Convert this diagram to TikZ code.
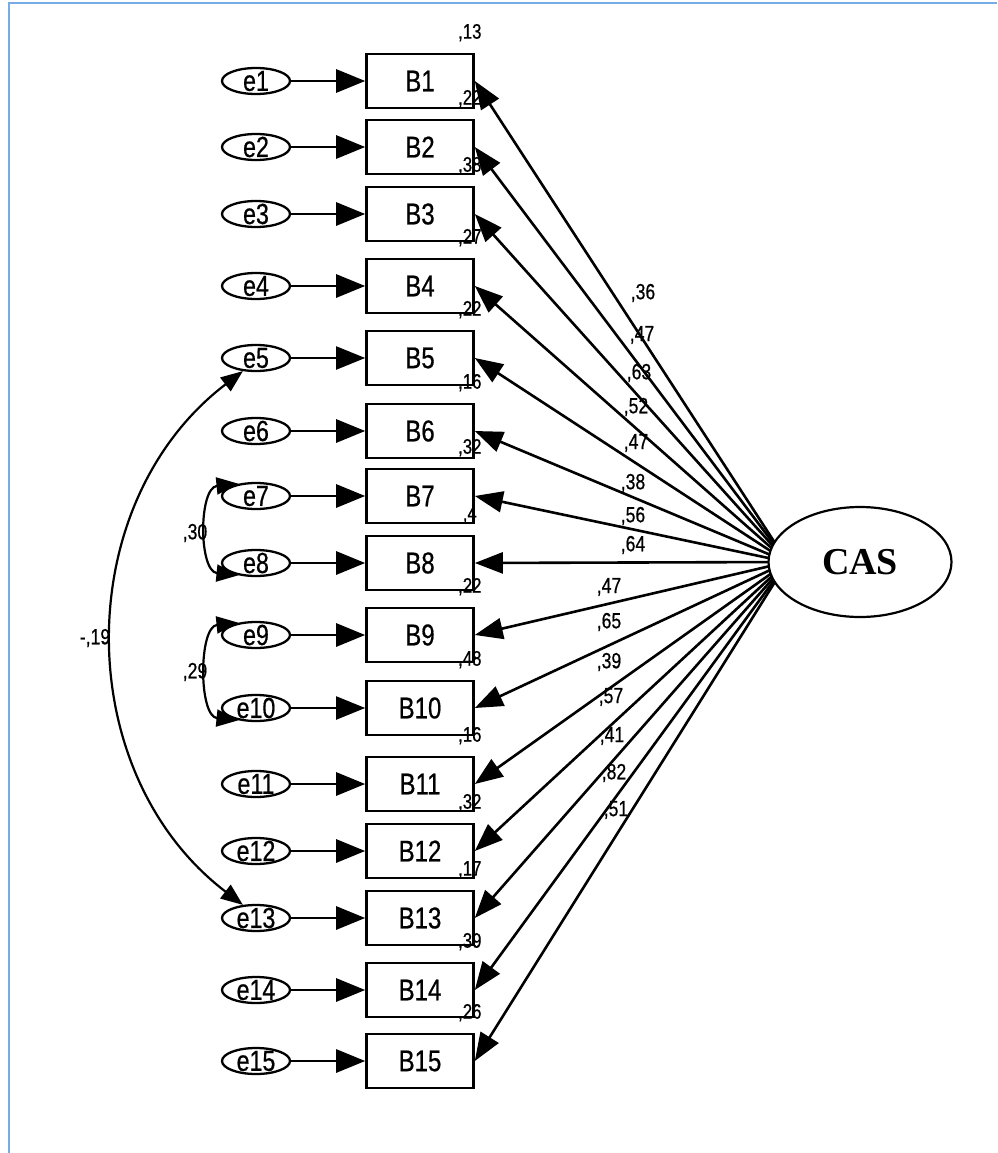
\documentclass[tikz,border=0pt]{standalone}
\usepackage{fontspec}
\usetikzlibrary{shapes.geometric,arrows.meta,backgrounds}
\newfontfamily\narrowsans[FakeStretch=0.8,FakeBold=0.6]{Liberation Sans}
\newfontfamily\latentfont{Liberation Serif}
\definecolor{frameblue}{RGB}{120,172,228}

\begin{document}
\begin{tikzpicture}[x=1pt,y=-1pt,
  obs/.style={draw,line width=2.6pt,minimum width=107pt,minimum height=54pt,
    inner sep=0pt,font=\narrowsans\fontsize{30}{30}\selectfont},
  err/.style={draw,ellipse,line width=2.3pt,minimum width=68pt,minimum height=26pt,inner sep=0pt},
  errtxt/.style={inner sep=0pt,font=\narrowsans\fontsize{29}{29}\selectfont},
  latent/.style={draw,ellipse,line width=2.2pt,fill=white,minimum width=183pt,
    minimum height=110pt,inner sep=0pt,font=\latentfont\bfseries\fontsize{38}{38}\selectfont},
  reg/.style={-{Triangle[length=29pt,width=23pt]}},
  load/.style={line width=2.6pt,-{Triangle[length=28pt,width=21pt]}},
  cov/.style={line width=2.2pt,{Triangle[length=22pt,width=17pt]}-{Triangle[length=22pt,width=17pt]}},
  est/.style={inner sep=0pt,font=\narrowsans\fontsize{22}{22}\selectfont},
  rsq/.style={inner sep=0pt,font=\narrowsans\fontsize{21}{21}\selectfont}]

\useasboundingbox (0,0) rectangle (997,1153);

% frame
\draw[line width=2pt,frameblue] (9,1153) -- (9,3) -- (997,3);

% latent factor
\node[latent] (cas) at (860,562) {CAS};
\coordinate (hub) at ([xshift=20pt]cas.west);

% indicators, error terms and their paths
\foreach \i/\y/\w/\r in {1/81/2.8/{,13},2/147/2.8/{,22},3/214/2.8/{,38},4/286/2.8/{,27},
    5/358/2/{,22},6/431/2.8/{,16},7/496/2.8/{,32},8/563/2.8/{,4},9/635/2.8/{,22},
    10/708/2/{,48},11/784/2.8/{,16},12/851/2.8/{,32},13/918/2.8/{,17},14/990/2.8/{,39},
    15/1061/2.8/{,26}}{
  \node[obs] (b\i) at (420,\y) {B\i};
  \node[err] (e\i) at (256,\y) {};
  \node[errtxt] (t\i) at (e\i) {e\i};
  \draw[reg,line width=\w pt] (e\i.east) -- (b\i.west);
  \node[rsq] (r\i) at ([xshift=-5pt,yshift=20pt]b\i.north east) {\r};
}

% factor loadings
\begin{pgfonlayer}{background}
\foreach \i in {1,...,15}{
  \draw[load] (hub) -- (b\i.east);
}
\end{pgfonlayer}

\foreach \i/\x/\y/\v in {1/643/293/{,36},2/642/335/{,47},3/639/373/{,63},
    4/636/407/{,52},5/636/443/{,47},6/633/483/{,38},7/633/516/{,56},
    8/633/545/{,64},9/609/587/{,47},10/609/622/{,65},11/609/662/{,39},
    12/611/697/{,57},13/612/736/{,41},14/614/773/{,82},15/616/810/{,51}}{
  \node[est] (l\i) at (\x,\y) {\v};
}

% error covariances
\draw[cov] (e7.145) .. controls +(-40,4) and +(-40,-4) .. (e8.215);
\draw[cov] (e9.145) .. controls +(-40,4) and +(-40,-4) .. (e10.215);
\draw[cov] (e5.225) .. controls +(-173,132) and +(-173,-132) .. (e13.135);

\node[est] (c78) at (195,533) {,30};
\node[est] (c910) at (195,672) {,29};
\node[est] (c513) at (95,638) {-,19};

\end{tikzpicture}
\end{document}
